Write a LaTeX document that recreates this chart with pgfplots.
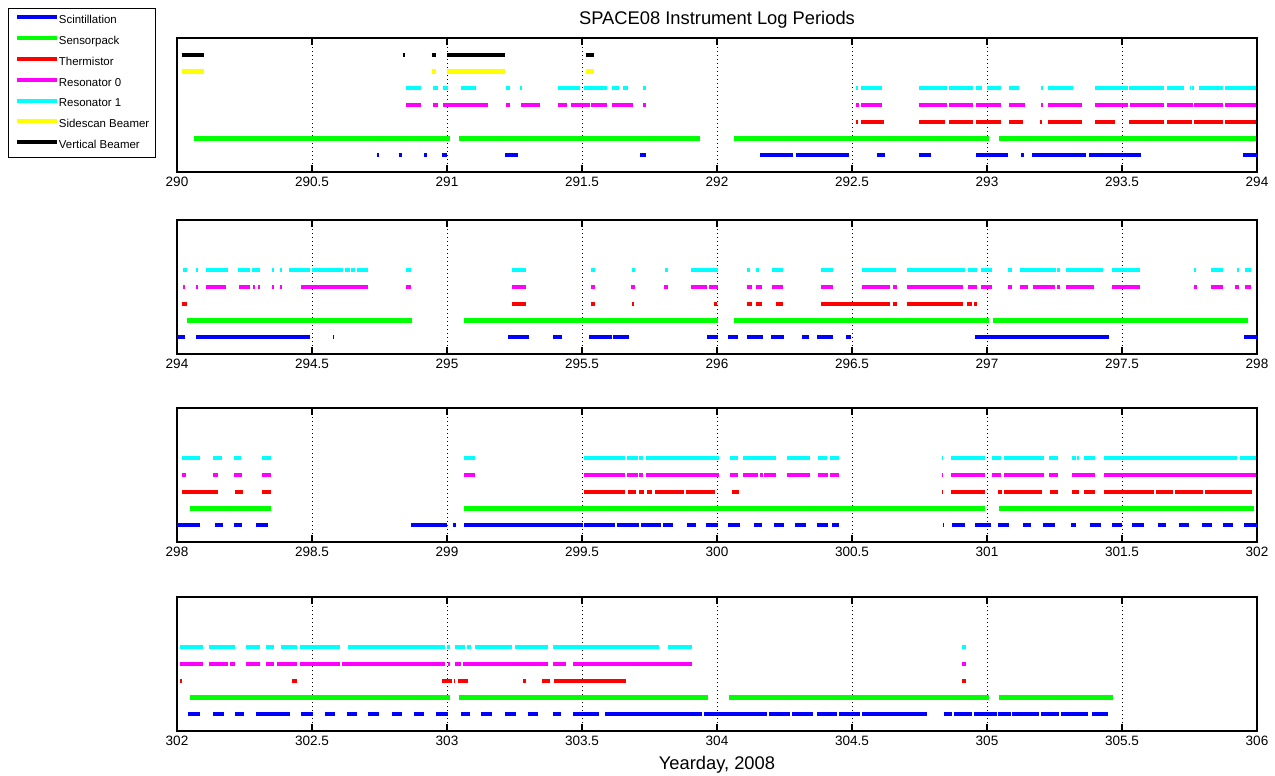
\documentclass[border=0pt]{standalone}
\usepackage{fontspec}
\setmainfont{Liberation Sans}
\usepackage{pgfplots}
\pgfplotsset{compat=1.18}
\definecolor{mblue}{rgb}{0,0,1}
\definecolor{mgreen}{rgb}{0,1,0}
\definecolor{mred}{rgb}{1,0,0}
\definecolor{mmag}{rgb}{1,0,1}
\definecolor{mcyan}{rgb}{0,1,1}
\definecolor{myellow}{rgb}{1,1,0}
\pgfplotsset{panel/.style={
  scale only axis, width=540bp, height=67bp,
  ymin=0, ymax=8, ytick=\empty,
  unbounded coords=jump,
  tick align=inside, xtick pos=both,
  major tick length=3.5bp,
  every tick/.style={black, line width=0.7bp},
  axis line style={line width=0.6bp},
  xmajorgrids, major grid style={black, line width=0.5bp, dash pattern=on 0.5bp off 1.5bp},
  xticklabel style={font=\fontsize{6.8}{8}\selectfont, anchor=base, yshift=-7.4bp, inner sep=0pt},
  /pgf/number format/assume math mode=true,
  /pgf/number format/1000 sep={},
  every axis plot/.append style={line width=2.2bp, line cap=butt, mark=none},
  legend image code/.code={\draw[#1, line width=2bp] (0bp,1.8bp) -- (20bp,1.8bp);},
}}
\begin{document}
\begin{tikzpicture}
\path[use as bounding box] (0,0) rectangle (637.5bp,-388bp);
% ---------------- Panel 1 ----------------
\begin{axis}[panel, at={(88.5bp,-19bp)}, anchor=north west,
  xmin=290, xmax=294, xtick={290,290.5,291,291.5,292,292.5,293,293.5,294},
  title={SPACE08 Instrument Log Periods},
  title style={at={(0.5,1)}, anchor=base, yshift=0.8bp, font=\fontsize{9.2}{10}\selectfont, inner sep=0pt},
  legend style={at={(-0.1565,1.224)}, anchor=north west, draw=black, line width=0.5bp, fill=white,
    inner xsep=3.2bp, inner ysep=3.25bp, font=\fontsize{5.75}{6}\selectfont, row sep=5.05bp,
    nodes={inner sep=0pt, text height=4bp, text depth=1.2bp},
    /tikz/every even column/.append style={column sep=2.5bp}},
  legend cell align=left]
\addplot[mblue] coordinates {(290.74,1)(290.747,1)(nan,nan)(290.822,1)(290.832,1)(nan,nan)(290.915,1)(290.925,1)(nan,nan)(290.98,1)(290.999,1)(nan,nan)(291.215,1)(291.264,1)(nan,nan)(291.716,1)(291.737,1)(nan,nan)(292.159,1)(292.283,1)(nan,nan)(292.293,1)(292.489,1)(nan,nan)(292.591,1)(292.622,1)(nan,nan)(292.748,1)(292.791,1)(nan,nan)(292.959,1)(293.077,1)(nan,nan)(293.125,1)(293.137,1)(nan,nan)(293.168,1)(293.367,1)(nan,nan)(293.379,1)(293.569,1)(nan,nan)(293.949,1)(294,1)};
\addlegendentry{Scintillation}
\addplot[mgreen] coordinates {(290.064,2)(291.011,2)(nan,nan)(291.044,2)(291.937,2)(nan,nan)(292.064,2)(293.009,2)(nan,nan)(293.046,2)(293.998,2)};
\addlegendentry{Sensorpack}
\addplot[mred] coordinates {(292.514,3)(292.521,3)(nan,nan)(292.533,3)(292.617,3)(nan,nan)(292.748,3)(292.844,3)(nan,nan)(292.859,3)(292.949,3)(nan,nan)(292.959,3)(293.052,3)(nan,nan)(293.081,3)(293.135,3)(nan,nan)(293.196,3)(293.205,3)(nan,nan)(293.227,3)(293.351,3)(nan,nan)(293.4,3)(293.474,3)(nan,nan)(293.527,3)(293.657,3)(nan,nan)(293.666,3)(293.761,3)(nan,nan)(293.768,3)(293.873,3)(nan,nan)(293.881,3)(293.998,3)};
\addlegendentry{Thermistor}
\addplot[mmag] coordinates {(290.848,4)(290.904,4)(nan,nan)(290.947,4)(290.967,4)(nan,nan)(290.986,4)(291.153,4)(nan,nan)(291.217,4)(291.232,4)(nan,nan)(291.273,4)(291.344,4)(nan,nan)(291.41,4)(291.443,4)(nan,nan)(291.458,4)(291.53,4)(nan,nan)(291.533,4)(291.591,4)(nan,nan)(291.61,4)(291.69,4)(nan,nan)(291.727,4)(291.736,4)(nan,nan)(292.514,4)(292.525,4)(nan,nan)(292.533,4)(292.61,4)(nan,nan)(292.748,4)(292.85,4)(nan,nan)(292.859,4)(292.949,4)(nan,nan)(292.959,4)(293.052,4)(nan,nan)(293.081,4)(293.141,4)(nan,nan)(293.2,4)(293.206,4)(nan,nan)(293.227,4)(293.351,4)(nan,nan)(293.4,4)(293.523,4)(nan,nan)(293.53,4)(293.657,4)(nan,nan)(293.666,4)(293.762,4)(nan,nan)(293.768,4)(293.873,4)(nan,nan)(293.881,4)(293.998,4)};
\addlegendentry{Resonator 0}
\addplot[mcyan] coordinates {(290.848,5)(290.904,5)(nan,nan)(290.947,5)(290.965,5)(nan,nan)(290.984,5)(291.002,5)(nan,nan)(291.051,5)(291.107,5)(nan,nan)(291.217,5)(291.233,5)(nan,nan)(291.27,5)(291.278,5)(nan,nan)(291.41,5)(291.493,5)(nan,nan)(291.507,5)(291.591,5)(nan,nan)(291.61,5)(291.638,5)(nan,nan)(291.651,5)(291.672,5)(nan,nan)(291.727,5)(291.736,5)(nan,nan)(292.514,5)(292.521,5)(nan,nan)(292.533,5)(292.61,5)(nan,nan)(292.748,5)(292.85,5)(nan,nan)(292.859,5)(292.949,5)(nan,nan)(292.959,5)(292.98,5)(nan,nan)(292.999,5)(293.052,5)(nan,nan)(293.081,5)(293.12,5)(nan,nan)(293.2,5)(293.206,5)(nan,nan)(293.227,5)(293.32,5)(nan,nan)(293.4,5)(293.523,5)(nan,nan)(293.527,5)(293.657,5)(nan,nan)(293.666,5)(293.731,5)(nan,nan)(293.75,5)(293.755,5)(nan,nan)(293.76,5)(293.765,5)(nan,nan)(293.785,5)(293.873,5)(nan,nan)(293.881,5)(293.998,5)};
\addlegendentry{Resonator 1}
\addplot[myellow] coordinates {(290.017,6)(290.1,6)(nan,nan)(290.943,6)(290.958,6)(nan,nan)(291.0,6)(291.215,6)(nan,nan)(291.515,6)(291.544,6)};
\addlegendentry{Sidescan Beamer}
\addplot[black] coordinates {(290.017,7)(290.1,7)(nan,nan)(290.836,7)(290.845,7)(nan,nan)(290.943,7)(290.959,7)(nan,nan)(290.999,7)(291.215,7)(nan,nan)(291.515,7)(291.544,7)};
\addlegendentry{Vertical Beamer}
\end{axis}
% ---------------- Panel 2 ----------------
\begin{axis}[panel, at={(88.5bp,-110bp)}, anchor=north west,
  xmin=294, xmax=298, xtick={294,294.5,295,295.5,296,296.5,297,297.5,298}]
\addplot[mblue] coordinates {(294.0,1)(294.03,1)(nan,nan)(294.07,1)(294.493,1)(nan,nan)(294.577,1)(294.583,1)(nan,nan)(295.227,1)(295.304,1)(nan,nan)(295.394,1)(295.425,1)(nan,nan)(295.526,1)(295.61,1)(nan,nan)(295.613,1)(295.675,1)(nan,nan)(295.964,1)(296.003,1)(nan,nan)(296.04,1)(296.077,1)(nan,nan)(296.11,1)(296.169,1)(nan,nan)(296.2,1)(296.249,1)(nan,nan)(296.316,1)(296.341,1)(nan,nan)(296.371,1)(296.428,1)(nan,nan)(296.478,1)(296.496,1)(nan,nan)(296.956,1)(297.453,1)(nan,nan)(297.953,1)(298.0,1)};
\addplot[mgreen] coordinates {(294.036,2)(294.869,2)(nan,nan)(295.064,2)(296.003,2)(nan,nan)(296.064,2)(297.009,2)(nan,nan)(297.021,2)(297.968,2)};
\addplot[mred] coordinates {(294.02,3)(294.038,3)(nan,nan)(295.24,3)(295.291,3)(nan,nan)(295.533,3)(295.548,3)(nan,nan)(295.684,3)(295.693,3)(nan,nan)(295.988,3)(296.0,3)(nan,nan)(296.112,3)(296.131,3)(nan,nan)(296.146,3)(296.166,3)(nan,nan)(296.217,3)(296.246,3)(nan,nan)(296.385,3)(296.641,3)(nan,nan)(296.651,3)(296.667,3)(nan,nan)(296.702,3)(296.91,3)(nan,nan)(296.925,3)(296.943,3)(nan,nan)(296.95,3)(296.962,3)};
\addplot[mmag] coordinates {(294.023,4)(294.03,4)(nan,nan)(294.069,4)(294.076,4)(nan,nan)(294.107,4)(294.183,4)(nan,nan)(294.23,4)(294.27,4)(nan,nan)(294.28,4)(294.29,4)(nan,nan)(294.3,4)(294.306,4)(nan,nan)(294.351,4)(294.358,4)(nan,nan)(294.381,4)(294.389,4)(nan,nan)(294.459,4)(294.706,4)(nan,nan)(294.848,4)(294.868,4)(nan,nan)(295.24,4)(295.291,4)(nan,nan)(295.533,4)(295.548,4)(nan,nan)(295.682,4)(295.696,4)(nan,nan)(295.805,4)(295.82,4)(nan,nan)(295.903,4)(295.962,4)(nan,nan)(295.97,4)(296.003,4)(nan,nan)(296.112,4)(296.131,4)(nan,nan)(296.146,4)(296.168,4)(nan,nan)(296.205,4)(296.246,4)(nan,nan)(296.385,4)(296.428,4)(nan,nan)(296.536,4)(296.641,4)(nan,nan)(296.651,4)(296.667,4)(nan,nan)(296.702,4)(296.91,4)(nan,nan)(296.929,4)(296.962,4)(nan,nan)(296.978,4)(297.017,4)(nan,nan)(297.079,4)(297.094,4)(nan,nan)(297.122,4)(297.151,4)(nan,nan)(297.169,4)(297.252,4)(nan,nan)(297.26,4)(297.27,4)(nan,nan)(297.293,4)(297.397,4)(nan,nan)(297.462,4)(297.567,4)(nan,nan)(297.767,4)(297.778,4)(nan,nan)(297.83,4)(297.875,4)(nan,nan)(297.92,4)(297.933,4)(nan,nan)(297.956,4)(297.978,4)};
\addplot[mcyan] coordinates {(294.023,5)(294.038,5)(nan,nan)(294.069,5)(294.076,5)(nan,nan)(294.107,5)(294.19,5)(nan,nan)(294.227,5)(294.27,5)(nan,nan)(294.277,5)(294.307,5)(nan,nan)(294.351,5)(294.358,5)(nan,nan)(294.381,5)(294.39,5)(nan,nan)(294.416,5)(294.493,5)(nan,nan)(294.499,5)(294.616,5)(nan,nan)(294.622,5)(294.64,5)(nan,nan)(294.645,5)(294.66,5)(nan,nan)(294.665,5)(294.706,5)(nan,nan)(294.848,5)(294.866,5)(nan,nan)(295.24,5)(295.291,5)(nan,nan)(295.533,5)(295.548,5)(nan,nan)(295.684,5)(295.696,5)(nan,nan)(295.807,5)(295.82,5)(nan,nan)(295.903,5)(295.995,5)(nan,nan)(295.998,5)(296.003,5)(nan,nan)(296.112,5)(296.122,5)(nan,nan)(296.143,5)(296.156,5)(nan,nan)(296.205,5)(296.246,5)(nan,nan)(296.385,5)(296.428,5)(nan,nan)(296.536,5)(296.662,5)(nan,nan)(296.702,5)(296.919,5)(nan,nan)(296.929,5)(296.962,5)(nan,nan)(296.978,5)(297.017,5)(nan,nan)(297.079,5)(297.094,5)(nan,nan)(297.122,5)(297.256,5)(nan,nan)(297.26,5)(297.27,5)(nan,nan)(297.293,5)(297.431,5)(nan,nan)(297.462,5)(297.567,5)(nan,nan)(297.767,5)(297.774,5)(nan,nan)(297.83,5)(297.875,5)(nan,nan)(297.925,5)(297.933,5)(nan,nan)(297.956,5)(297.978,5)};
\end{axis}
% ---------------- Panel 3 ----------------
\begin{axis}[panel, at={(88.5bp,-204bp)}, anchor=north west,
  xmin=298, xmax=302, xtick={298,298.5,299,299.5,300,300.5,301,301.5,302}]
\addplot[mblue] coordinates {(298.0,1)(298.085,1)(nan,nan)(298.14,1)(298.17,1)(nan,nan)(298.21,1)(298.24,1)(nan,nan)(298.293,1)(298.336,1)(nan,nan)(298.867,1)(298.999,1)(nan,nan)(299.023,1)(299.032,1)(nan,nan)(299.064,1)(299.503,1)(nan,nan)(299.508,1)(299.622,1)(nan,nan)(299.628,1)(299.711,1)(nan,nan)(299.719,1)(299.791,1)(nan,nan)(299.801,1)(299.836,1)(nan,nan)(299.888,1)(299.921,1)(nan,nan)(299.959,1)(300.003,1)(nan,nan)(300.042,1)(300.085,1)(nan,nan)(300.137,1)(300.165,1)(nan,nan)(300.211,1)(300.249,1)(nan,nan)(300.289,1)(300.328,1)(nan,nan)(300.371,1)(300.412,1)(nan,nan)(300.425,1)(300.452,1)(nan,nan)(300.838,1)(300.842,1)(nan,nan)(300.869,1)(300.919,1)(nan,nan)(300.956,1)(301.015,1)(nan,nan)(301.042,1)(301.083,1)(nan,nan)(301.135,1)(301.163,1)(nan,nan)(301.209,1)(301.252,1)(nan,nan)(301.31,1)(301.33,1)(nan,nan)(301.381,1)(301.421,1)(nan,nan)(301.462,1)(301.501,1)(nan,nan)(301.538,1)(301.581,1)(nan,nan)(301.634,1)(301.662,1)(nan,nan)(301.711,1)(301.748,1)(nan,nan)(301.797,1)(301.834,1)(nan,nan)(301.875,1)(301.912,1)(nan,nan)(301.951,1)(301.999,1)};
\addplot[mgreen] coordinates {(298.048,2)(298.348,2)(nan,nan)(299.064,2)(300.993,2)(nan,nan)(301.046,2)(301.99,2)};
\addplot[mred] coordinates {(298.017,3)(298.151,3)(nan,nan)(298.215,3)(298.243,3)(nan,nan)(298.316,3)(298.348,3)(nan,nan)(299.507,3)(299.659,3)(nan,nan)(299.67,3)(299.7,3)(nan,nan)(299.712,3)(299.73,3)(nan,nan)(299.74,3)(299.76,3)(nan,nan)(299.77,3)(299.878,3)(nan,nan)(299.884,3)(299.993,3)(nan,nan)(300.054,3)(300.081,3)(nan,nan)(300.832,3)(300.838,3)(nan,nan)(300.865,3)(300.993,3)(nan,nan)(301.04,3)(301.054,3)(nan,nan)(301.064,3)(301.203,3)(nan,nan)(301.234,3)(301.262,3)(nan,nan)(301.314,3)(301.341,3)(nan,nan)(301.36,3)(301.4,3)(nan,nan)(301.434,3)(301.617,3)(nan,nan)(301.625,3)(301.69,3)(nan,nan)(301.697,3)(301.8,3)(nan,nan)(301.808,3)(301.98,3)};
\addplot[mmag] coordinates {(298.017,4)(298.033,4)(nan,nan)(298.135,4)(298.151,4)(nan,nan)(298.212,4)(298.24,4)(nan,nan)(298.316,4)(298.348,4)(nan,nan)(299.064,4)(299.104,4)(nan,nan)(299.507,4)(299.659,4)(nan,nan)(299.666,4)(299.709,4)(nan,nan)(299.712,4)(299.725,4)(nan,nan)(299.737,4)(300.007,4)(nan,nan)(300.048,4)(300.079,4)(nan,nan)(300.097,4)(300.153,4)(nan,nan)(300.161,4)(300.169,4)(nan,nan)(300.175,4)(300.217,4)(nan,nan)(300.26,4)(300.344,4)(nan,nan)(300.373,4)(300.412,4)(nan,nan)(300.419,4)(300.452,4)(nan,nan)(300.832,4)(300.838,4)(nan,nan)(300.865,4)(300.993,4)(nan,nan)(301.017,4)(301.052,4)(nan,nan)(301.063,4)(301.211,4)(nan,nan)(301.231,4)(301.264,4)(nan,nan)(301.314,4)(301.4,4)(nan,nan)(301.434,4)(301.995,4)};
\addplot[mcyan] coordinates {(298.017,5)(298.085,5)(nan,nan)(298.135,5)(298.165,5)(nan,nan)(298.212,5)(298.237,5)(nan,nan)(298.316,5)(298.348,5)(nan,nan)(299.064,5)(299.104,5)(nan,nan)(299.507,5)(299.659,5)(nan,nan)(299.666,5)(299.709,5)(nan,nan)(299.712,5)(299.725,5)(nan,nan)(299.737,5)(300.007,5)(nan,nan)(300.048,5)(300.079,5)(nan,nan)(300.097,5)(300.217,5)(nan,nan)(300.26,5)(300.344,5)(nan,nan)(300.373,5)(300.406,5)(nan,nan)(300.419,5)(300.453,5)(nan,nan)(300.832,5)(300.838,5)(nan,nan)(300.865,5)(300.993,5)(nan,nan)(301.017,5)(301.052,5)(nan,nan)(301.063,5)(301.211,5)(nan,nan)(301.231,5)(301.264,5)(nan,nan)(301.314,5)(301.33,5)(nan,nan)(301.335,5)(301.341,5)(nan,nan)(301.36,5)(301.4,5)(nan,nan)(301.434,5)(301.925,5)(nan,nan)(301.937,5)(301.995,5)};
\end{axis}
% ---------------- Panel 4 ----------------
\begin{axis}[panel, at={(88.5bp,-298.5bp)}, anchor=north west,
  xmin=302, xmax=306, xtick={302,302.5,303,303.5,304,304.5,305,305.5,306},
  xlabel={Yearday, 2008},
  xlabel style={at={(axis description cs:0.5,0)}, anchor=base, yshift=-19.2bp, font=\fontsize{9.2}{10}\selectfont, inner sep=0pt}]
\addplot[mblue] coordinates {(302.042,1)(302.085,1)(nan,nan)(302.132,1)(302.175,1)(nan,nan)(302.215,1)(302.248,1)(nan,nan)(302.293,1)(302.419,1)(nan,nan)(302.458,1)(302.505,1)(nan,nan)(302.548,1)(302.585,1)(nan,nan)(302.628,1)(302.665,1)(nan,nan)(302.709,1)(302.749,1)(nan,nan)(302.795,1)(302.832,1)(nan,nan)(302.879,1)(302.916,1)(nan,nan)(302.959,1)(303.005,1)(nan,nan)(303.051,1)(303.085,1)(nan,nan)(303.126,1)(303.168,1)(nan,nan)(303.215,1)(303.256,1)(nan,nan)(303.299,1)(303.338,1)(nan,nan)(303.394,1)(303.422,1)(nan,nan)(303.466,1)(303.564,1)(nan,nan)(303.585,1)(303.943,1)(nan,nan)(303.953,1)(304.184,1)(nan,nan)(304.193,1)(304.27,1)(nan,nan)(304.279,1)(304.357,1)(nan,nan)(304.369,1)(304.443,1)(nan,nan)(304.452,1)(304.53,1)(nan,nan)(304.538,1)(304.777,1)(nan,nan)(304.841,1)(304.869,1)(nan,nan)(304.878,1)(304.943,1)(nan,nan)(304.95,1)(305.036,1)(nan,nan)(305.042,1)(305.089,1)(nan,nan)(305.094,1)(305.193,1)(nan,nan)(305.2,1)(305.267,1)(nan,nan)(305.274,1)(305.373,1)(nan,nan)(305.388,1)(305.447,1)};
\addplot[mgreen] coordinates {(302.048,2)(303.011,2)(nan,nan)(303.044,2)(303.965,2)(nan,nan)(304.046,2)(305.009,2)(nan,nan)(305.046,2)(305.468,2)};
\addplot[mred] coordinates {(302.01,3)(302.017,3)(nan,nan)(302.425,3)(302.446,3)(nan,nan)(302.98,3)(303.017,3)(nan,nan)(303.025,3)(303.03,3)(nan,nan)(303.042,3)(303.077,3)(nan,nan)(303.283,3)(303.293,3)(nan,nan)(303.351,3)(303.381,3)(nan,nan)(303.397,3)(303.662,3)(nan,nan)(304.906,3)(304.922,3)};
\addplot[mmag] coordinates {(302.011,4)(302.097,4)(nan,nan)(302.12,4)(302.19,4)(nan,nan)(302.198,4)(302.215,4)(nan,nan)(302.256,4)(302.307,4)(nan,nan)(302.33,4)(302.359,4)(nan,nan)(302.37,4)(302.443,4)(nan,nan)(302.456,4)(302.605,4)(nan,nan)(302.61,4)(302.993,4)(nan,nan)(303.003,4)(303.012,4)(nan,nan)(303.03,4)(303.05,4)(nan,nan)(303.058,4)(303.375,4)(nan,nan)(303.394,4)(303.441,4)(nan,nan)(303.468,4)(303.906,4)(nan,nan)(304.906,4)(304.922,4)};
\addplot[mcyan] coordinates {(302.011,5)(302.097,5)(nan,nan)(302.12,5)(302.215,5)(nan,nan)(302.256,5)(302.307,5)(nan,nan)(302.33,5)(302.359,5)(nan,nan)(302.385,5)(302.443,5)(nan,nan)(302.456,5)(302.604,5)(nan,nan)(302.635,5)(302.993,5)(nan,nan)(303.0,5)(303.012,5)(nan,nan)(303.03,5)(303.067,5)(nan,nan)(303.075,5)(303.09,5)(nan,nan)(303.104,5)(303.24,5)(nan,nan)(303.25,5)(303.375,5)(nan,nan)(303.394,5)(303.785,5)(nan,nan)(303.82,5)(303.909,5)(nan,nan)(304.906,5)(304.922,5)};
\end{axis}
\end{tikzpicture}
\end{document}
